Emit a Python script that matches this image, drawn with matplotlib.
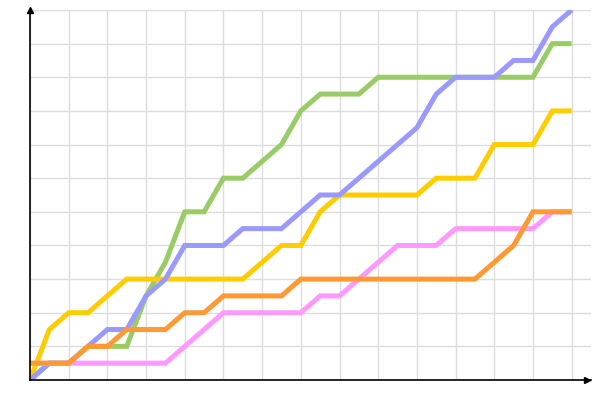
import matplotlib

matplotlib.use("Agg")

import matplotlib.pyplot as plt

steps = list(range(29))

green = [0, 1, 1, 2, 2, 2, 5, 7, 10, 10, 12, 12, 13, 14, 16, 17, 17, 17, 18,
         18, 18, 18, 18, 18, 18, 18, 18, 20, 20]
yellow = [0, 3, 4, 4, 5, 6, 6, 6, 6, 6, 6, 6, 7, 8, 8, 10, 11, 11, 11,
          11, 11, 12, 12, 12, 14, 14, 14, 16, 16]
blue = [0, 1, 1, 2, 3, 3, 5, 6, 8, 8, 8, 9, 9, 9, 10, 11, 11, 12, 13,
        14, 15, 17, 18, 18, 18, 19, 19, 21, 22]
pink = [1, 1, 1, 1, 1, 1, 1, 1, 2, 3, 4, 4, 4, 4, 4, 5, 5, 6, 7,
        8, 8, 8, 9, 9, 9, 9, 9, 10, 10]
orange = [1, 1, 1, 2, 2, 3, 3, 3, 4, 4, 5, 5, 5, 5, 6, 6, 6, 6, 6,
          6, 6, 6, 6, 6, 7, 8, 10, 10, 10]

series = [
    (green, "#99cc66"),
    (yellow, "#ffcc00"),
    (blue, "#9999ff"),
    (pink, "#ff99ff"),
    (orange, "#ff9933"),
]

fig = plt.figure(figsize=(6, 4), dpi=100)
ax = fig.add_axes([0.05, 0.05, 0.935, 0.925])

for values, color in series:
    ax.plot(steps, values, color=color, linewidth=3.6, solid_capstyle="butt",
            solid_joinstyle="miter")

ax.set_xlim(0, 29)
ax.set_ylim(0, 22)
ax.set_xticks(range(0, 29, 2))
ax.set_yticks(range(0, 23, 2))
ax.grid(True, color="#dddddd", linewidth=1.0)
ax.set_axisbelow(True)
ax.tick_params(length=0, labelbottom=False, labelleft=False)

for side in ("top", "right"):
    ax.spines[side].set_visible(False)
for side in ("left", "bottom"):
    ax.spines[side].set_color("black")
    ax.spines[side].set_linewidth(1.2)
    ax.spines[side].set_zorder(5)

# arrow heads on the axes
ax.plot([0], [1], marker="^", color="black", markersize=4,
        transform=ax.transAxes, clip_on=False, zorder=6)
ax.plot([0.993], [0], marker=">", color="black", markersize=4,
        transform=ax.transAxes, clip_on=False, zorder=6)

fig.savefig("out.png", dpi=100, facecolor="white")
